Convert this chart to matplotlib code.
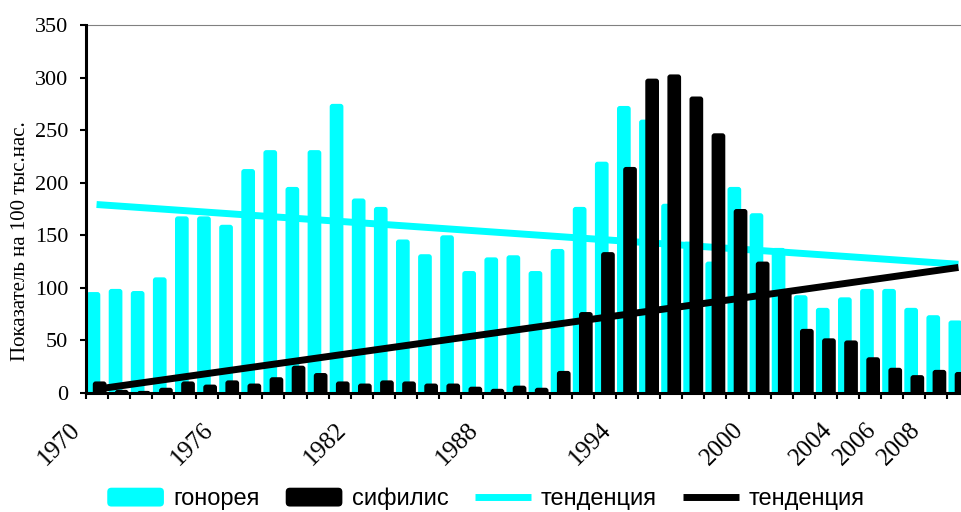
import numpy as np
import matplotlib
matplotlib.use("Agg")
import matplotlib.pyplot as plt
from matplotlib.patches import FancyBboxPatch, Patch
from matplotlib.lines import Line2D
from matplotlib.legend_handler import HandlerPatch
from matplotlib.transforms import ScaledTranslation

# заболеваемость на 100 тыс. населения, 1970-2009
years = list(range(1970, 2010))
gonorrhea = [96, 99, 97, 110, 168, 168, 160, 213, 231, 196,
             231, 275, 185, 177, 146, 132, 150, 116, 129, 131,
             116, 137, 177, 220, 273, 260, 180, 144, 125, 196,
             171, 138, 93, 81, 91, 99, 99, 81, 74, 69]
syphilis = [11, 3, 2, 5, 11, 8, 12, 9, 15, 26,
            19, 11, 9, 12, 11, 9, 9, 6, 4, 7,
            5, 21, 77, 134, 215, 299, 303, 282, 247, 175,
            125, 98, 61, 52, 50, 34, 24, 17, 22, 20]
shown_years = [1970, 1976, 1982, 1988, 1994, 2000, 2004, 2006, 2008]

CYAN = "#00FFFF"
BLACK = "#000000"
SERIF = "Liberation Serif"
SANS = "Liberation Sans"

fig = plt.figure(figsize=(9.61, 5.12), dpi=100)
ax = fig.add_axes([85.5 / 961, 119 / 512, 884 / 961, 368 / 512])

x = np.arange(len(years))
ax.set_xlim(-0.5, len(years) - 0.5)
ax.set_ylim(0, 350)

# rounded-top bars: take the geometry from ax.bar, redraw as rounded boxes
aspect = (350 / 368) / (len(years) / 884)


def rounded_bars(offset, values, color, z):
    bars = ax.bar(x + offset, values, width=0.62, color=color, zorder=z)
    for r in bars:
        r.set_visible(False)
        x0, _ = r.get_xy()
        box = FancyBboxPatch((x0, -8), r.get_width(), r.get_height() + 8,
                             boxstyle="round,pad=0,rounding_size=0.13",
                             mutation_aspect=aspect, fc=color, ec="none",
                             zorder=z)
        ax.add_patch(box)


rounded_bars(-0.14, gonorrhea, CYAN, 2)
rounded_bars(0.14, syphilis, BLACK, 4)

# linear trends (least squares over the whole period)
g_fit = np.poly1d(np.polyfit(x, gonorrhea, 1))
s_fit = np.poly1d(np.polyfit(x, syphilis, 1))
ax.plot(x, g_fit(x), color=CYAN, lw=5, solid_capstyle="butt", zorder=3)
ax.plot(x, s_fit(x), color=BLACK, lw=5, solid_capstyle="butt", zorder=5)

# axes styling
for s in ("left", "bottom"):
    ax.spines[s].set_linewidth(2.2)
    ax.spines[s].set_zorder(6)
ax.spines["right"].set_visible(False)
ax.spines["top"].set_color("#808080")
ax.spines["top"].set_linewidth(0.8)

ax.set_yticks(range(0, 351, 50))
ax.tick_params(axis="y", direction="out", length=4.5, width=1.5, pad=8,
               labelsize=16)
for lab in ax.get_yticklabels():
    lab.set_fontfamily(SERIF)

# ticks between categories, year labels only for selected years
ax.set_xticks(np.arange(-0.5, len(years), 1))
ax.set_xticklabels([])
ax.tick_params(axis="x", direction="out", length=4.5, width=1.5)
label_tr = ax.get_xaxis_transform() + ScaledTranslation(-27 / 100, -26 / 100,
                                                        fig.dpi_scale_trans)
for yr in shown_years:
    ax.text(years.index(yr), 0, str(yr), transform=label_tr, rotation=45,
            ha="right", va="top", rotation_mode="anchor", fontsize=18,
            fontfamily=SERIF, clip_on=False)

fig.text(21 / 961, 1 - 241 / 512, "Показатель на 100 тыс.нас.", rotation=90,
         ha="center", va="center", fontsize=15, fontfamily=SERIF)


def _round_patch(legend, orig_handle, xdescent, ydescent, width, height, fontsize):
    return FancyBboxPatch((-xdescent, -ydescent), width, height,
                          boxstyle="round,pad=0,rounding_size=3")


handles = [
    Patch(fc=CYAN, ec="none"),
    Patch(fc=BLACK, ec="none"),
    Line2D([], [], color=CYAN, lw=5, solid_capstyle="butt"),
    Line2D([], [], color=BLACK, lw=5, solid_capstyle="butt"),
]
labels = ["гонорея", "сифилис", "тенденция", "тенденция"]
fig.legend(handles, labels, loc="center", bbox_to_anchor=(486 / 961, 13 / 512),
           ncol=4, frameon=False, prop={"family": SANS, "size": 17},
           handlelength=2.4, handleheight=0.85, handletextpad=0.4,
           columnspacing=1.1, borderpad=0,
           handler_map={Patch: HandlerPatch(patch_func=_round_patch)})

fig.savefig("out.png", dpi=100)
